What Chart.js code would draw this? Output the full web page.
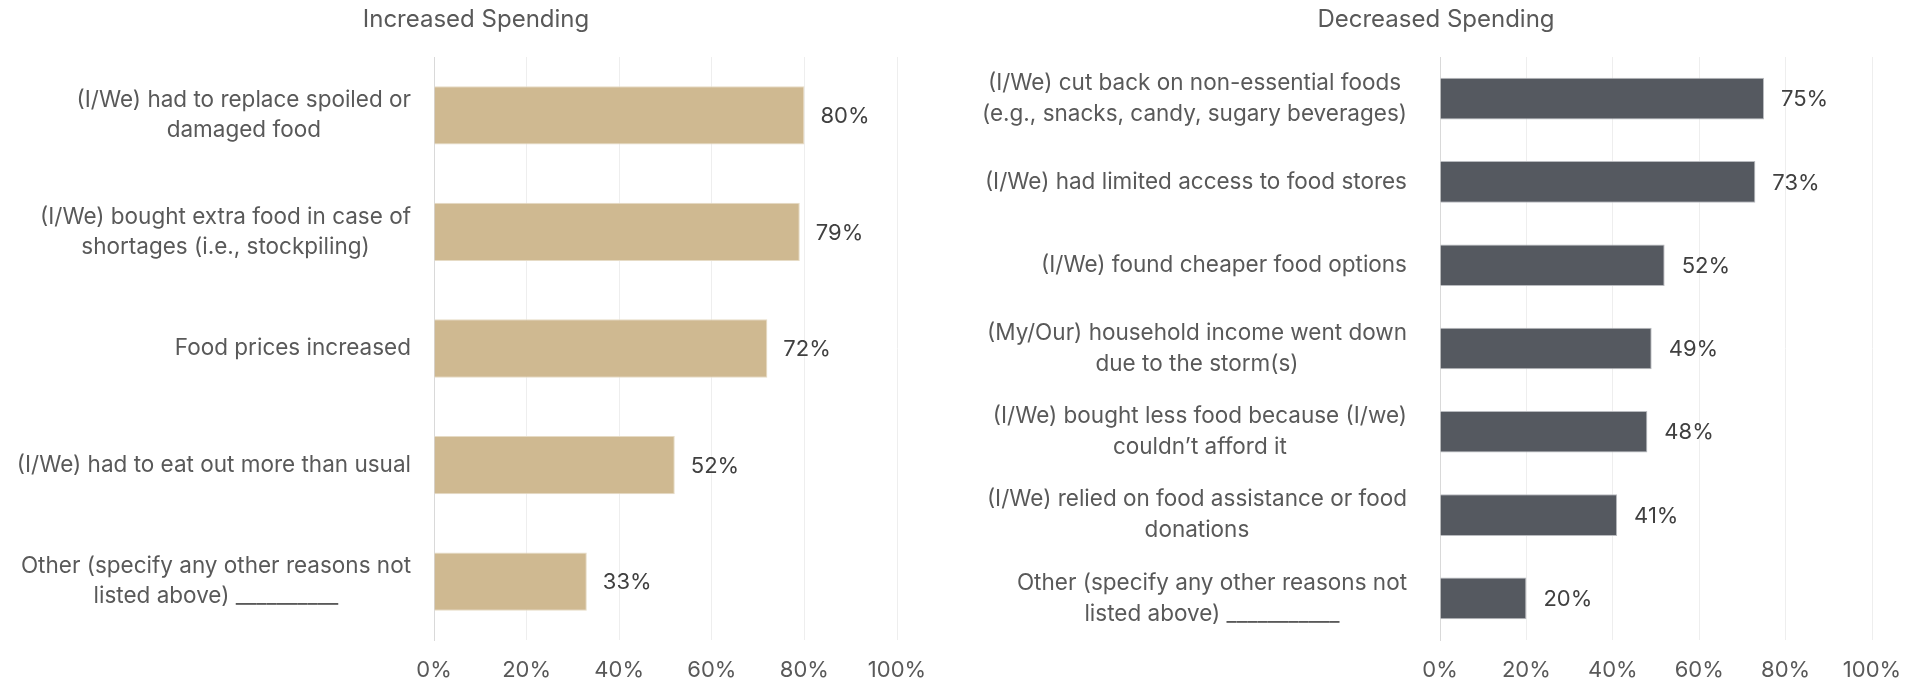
<!DOCTYPE html>
<html><head><meta charset="utf-8">
<script src="https://cdn.jsdelivr.net/npm/chart.js@4"></script>
<style>
html,body{margin:0;padding:0;background:#fff;width:1919px;height:682px;overflow:hidden}
.box{position:absolute;top:0;height:682px;width:952px}
#lb{left:0}
#rb{left:960px}
</style></head><body>
<div class="box" id="lb"><canvas id="c1"></canvas></div>
<div class="box" id="rb"><canvas id="c2"></canvas></div>
<script>
const increasedTitle = 'Increased Spending';
const increasedCategories = [
  ['(I/We) had to replace spoiled or', 'damaged food'],
  ['(I/We) bought extra food in case of', 'shortages (i.e., stockpiling)'],
  'Food prices increased',
  '(I/We) had to eat out more than usual',
  ['Other (specify any other reasons not', 'listed above) __________']
];
const increasedValues = [80, 79, 72, 52, 33];

const decreasedTitle = 'Decreased Spending';
const decreasedCategories = [
  ['(I/We) cut back on non-essential foods', '(e.g., snacks, candy, sugary beverages)'],
  '(I/We) had limited access to food stores',
  '(I/We) found cheaper food options',
  ['(My/Our) household income went down', 'due to the storm(s)'],
  ['(I/We) bought less food because (I/we)', 'couldn\u2019t afford it'],
  ['(I/We) relied on food assistance or food', 'donations'],
  ['Other (specify any other reasons not', 'listed above) ___________']
];
const decreasedValues = [75, 73, 52, 49, 48, 41, 20];

const tickValues = [0, 20, 40, 60, 80, 100];

const FONT = 'Inter, "Liberation Sans", Arial, sans-serif';

function labelPlugin(cfg) {
  return {
    id: 'customLabels',
    afterDraw(chart) {
      const ctx = chart.ctx, ys = chart.scales.y, area = chart.chartArea;
      ctx.save();
      ctx.font = cfg.labelSize + 'px ' + FONT;
      ctx.fillStyle = '#595959';
      ctx.textAlign = 'center';
      ctx.textBaseline = 'middle';
      chart.data.labels.forEach((lab, i) => {
        const lines = Array.isArray(lab) ? lab : [lab];
        const w = Math.max(...lines.map(l => ctx.measureText(l).width));
        const cx = area.left - cfg.gap - w / 2;
        const cy = ys.getPixelForTick(i);
        lines.forEach((l, j) => ctx.fillText(l, cx, cy + (j - (lines.length - 1) / 2) * cfg.lh + cfg.dy));
      });
      const meta = chart.getDatasetMeta(0);
      ctx.font = '22px ' + FONT;
      ctx.fillStyle = '#404040';
      ctx.textAlign = 'left';
      meta.data.forEach((bar, i) => {
        ctx.fillText(chart.data.datasets[0].data[i] + '%', bar.x + cfg.dlOff, bar.y + 1);
      });
      ctx.restore();
    }
  };
}

function makeChart(id, cats, vals, color, border, cfg) {
  return new Chart(document.getElementById(id), {
    type: 'bar',
    data: {
      labels: cats,
      datasets: [{
        data: vals,
        backgroundColor: color,
        borderColor: border,
        borderWidth: 1,
        barPercentage: 0.5,
        categoryPercentage: 1
      }]
    },
    options: {
      indexAxis: 'y',
      responsive: true,
      maintainAspectRatio: false,
      animation: false,
      layout: { padding: { left: cfg.padL, right: cfg.padR, top: 0, bottom: 0 } },
      plugins: {
        legend: { display: false },
        tooltip: { enabled: false },
        title: {
          display: true,
          text: cfg.title,
          color: '#595959',
          font: { family: FONT, size: 24, weight: 'normal', lineHeight: 1.25 },
          padding: { top: 5, bottom: 22 }
        }
      },
      scales: {
        x: {
          min: 0, max: 100,
          afterBuildTicks: s => { s.ticks = tickValues.map(v => ({ value: v })); },
          ticks: {
            callback: v => v + '%',
            color: '#595959',
            font: { family: FONT, size: 22 },
            padding: 17,
            maxRotation: 0
          },
          grid: {
            color: c => (c.tick && c.tick.value === 0) ? '#d9d9d9' : '#eeeeee',
            drawTicks: false,
            lineWidth: 1
          },
          border: { display: false },
          afterFit: s => { s.height = 42; s.paddingLeft = 0; s.paddingRight = 0; }
        },
        y: {
          ticks: { display: false },
          grid: { display: false },
          border: { display: true, color: '#d9d9d9', width: 1 },
          afterFit: s => { s.width = cfg.yWidth; s.paddingTop = 0; s.paddingBottom = 0; }
        }
      }
    },
    plugins: [labelPlugin(cfg)]
  });
}

makeChart('c1', increasedCategories, increasedValues, '#cfb991', '#e6dbc5', {
  title: increasedTitle, padL: 55, padR: 55, yWidth: 379, gap: 23, lh: 30, dy: 0, dlOff: 16, labelSize: 22.5
});
makeChart('c2', decreasedCategories, decreasedValues, '#555960', '#b9bbbf', {
  title: decreasedTitle, padL: 40, padR: 40, yWidth: 440, gap: 33, lh: 31, dy: 0, dlOff: 17, labelSize: 22.5
});
</script>
</body></html>
